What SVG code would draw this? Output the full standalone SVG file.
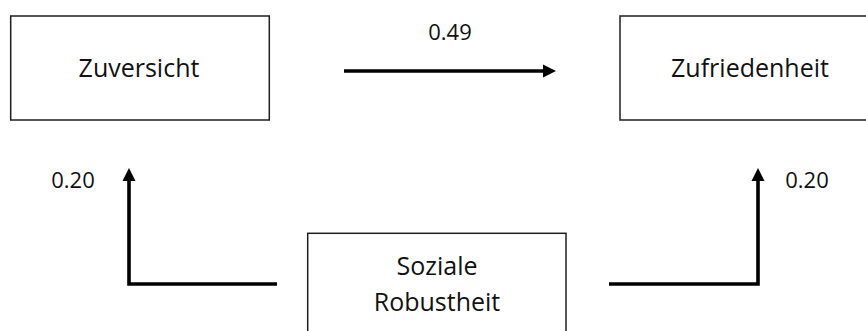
<svg xmlns="http://www.w3.org/2000/svg" width="866" height="331" viewBox="0 0 866 331">
<style>
.box{fill:#fff;stroke:#1e1e1e;stroke-width:1.5}
.t{font-family:"Open Sans","Liberation Sans",sans-serif;font-size:25px;fill:#111;text-anchor:middle}
.n{font-family:"Open Sans","Liberation Sans",sans-serif;font-size:22px;fill:#111;text-anchor:middle}
.c{fill:none;stroke:#000;stroke-width:3.6;stroke-linejoin:miter;stroke-linecap:butt}
.h{fill:#000}
</style>
<rect width="866" height="331" fill="#fff"/>
<g id="zuversicht">
<rect class="box" x="10.7" y="16" width="258.6" height="104"/>
<text class="t" x="139" y="77">Zuversicht</text>
</g>
<g id="zufriedenheit">
<rect class="box" x="620" y="16" width="260" height="104"/>
<text class="t" x="750" y="77">Zufriedenheit</text>
</g>
<g id="soziale-robustheit">
<rect class="box" x="307.7" y="233.3" width="258.3" height="110"/>
<text class="t" x="437" y="275">Soziale</text>
<text class="t" x="437" y="311">Robustheit</text>
</g>
<g id="connectors">
<line class="c" x1="344" y1="71" x2="544" y2="71"/>
<polygon class="h" points="543,64.5 556,71 543,77.5"/>
<text class="n" x="450" y="40">0.49</text>
<path class="c" d="M277,284 H129 V180"/>
<polygon class="h" points="122.5,181 129,168 135.5,181"/>
<text class="n" x="73" y="188">0.20</text>
<path class="c" d="M609,284 H758 V180"/>
<polygon class="h" points="751.5,181 758,168 764.5,181"/>
<text class="n" x="807" y="188">0.20</text>
</g>
</svg>
